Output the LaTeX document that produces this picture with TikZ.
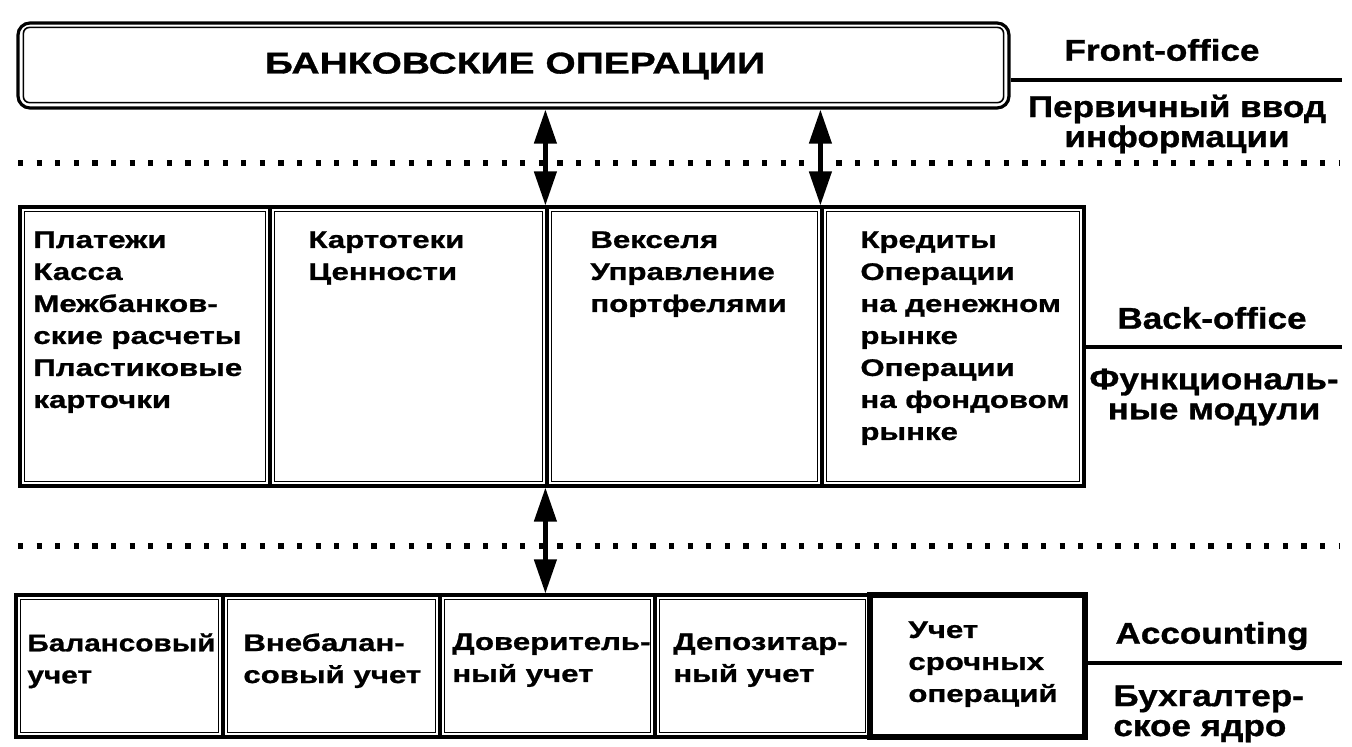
\documentclass[tikz,border=0pt]{standalone}
\usepackage{fontspec}
\setmainfont{Liberation Sans}[FakeStretch=1.3, BoldFeatures={FakeBold=1}]
\newfontfamily\lblfont{Liberation Sans}[FakeStretch=1.17, BoldFeatures={FakeBold=1}]
\newfontfamily\narrowfont{Liberation Sans}[FakeStretch=1.24, BoldFeatures={FakeBold=1}]
\usetikzlibrary{arrows.meta,calc,fit}
\begin{document}
\begin{tikzpicture}[x=0.5pt,y=-0.5pt,
  font=\bfseries\fontsize{12}{16}\selectfont,
  outerline/.style={draw, line width=1.6pt, inner sep=0pt},
  innerline/.style={draw, line width=0.8pt},
  heavycell/.style={draw, line width=2.6pt, inner sep=0pt},
  txt/.style={anchor=north west, inner sep=0pt, align=left},
  lbl/.style={inner sep=0pt, align=center, font=\lblfont\bfseries\fontsize{15}{15}\selectfont},
  conn/.style={line width=2pt},
  dots/.style={line width=2.6pt, dash pattern=on 2.6pt off 6.7pt},
  arr/.style={line width=2.2pt, {Triangle[length=17pt,width=11pt]}-{Triangle[length=17pt,width=11pt]}},
]
\useasboundingbox (0,0) rectangle (1352,746);

% top box
\node[outerline, rounded corners=6pt, fit={(18,23) (1009,108)}] (top) {};
\draw[innerline, rounded corners=3pt] ($(top.north west)+(7,6)$) rectangle ($(top.south east)+(-7,-7)$);
\node[font=\bfseries\fontsize{15}{18}\selectfont, inner sep=0pt] (title) at (515,66) {БАНКОВСКИЕ ОПЕРАЦИИ};

% separators
\coordinate (d1a) at (18,163); \coordinate (d1b) at (1340,163);
\coordinate (d2a) at (18,546); \coordinate (d2b) at (1340,546);
\draw[dots] (d1a) -- (d1b);
\draw[dots] (d2a) -- (d2b);

% middle cells
\node[outerline, fit={(20,207) (270,486)}] (m1) {};
\node[outerline, fit={(270,207) (547,486)}] (m2) {};
\node[outerline, fit={(547,207) (822,486)}] (m3) {};
\node[outerline, fit={(822,207) (1084,486)}] (m4) {};
\foreach \m in {m1,m2,m3,m4}
  \draw[innerline] ($(\m.north west)+(6,6)$) rectangle ($(\m.south east)+(-6,-6)$);

\node[txt] (t1) at (33,231) {Платежи\\Касса\\Межбанков-\\ские расчеты\\Пластиковые\\карточки};
\node[txt] (t2) at (308,231) {Картотеки\\Ценности};
\node[txt] (t3) at (590,231) {Векселя\\Управление\\портфелями};
\node[txt] (t4) at (860,231) {Кредиты\\Операции\\на денежном\\рынке\\Операции\\на фондовом\\рынке};

% bottom cells
\node[outerline, fit={(16,595) (223,737)}] (b1) {};
\node[outerline, fit={(223,595) (440,737)}] (b2) {};
\node[outerline, fit={(440,595) (655,737)}] (b3) {};
\node[outerline, fit={(655,595) (870,737)}] (b4) {};
\node[heavycell, fit={(870,595) (1085,737)}] (b5) {};
\foreach \b in {b1,b2,b3,b4}
  \draw[innerline] ($(\b.north west)+(6,6)$) rectangle ($(\b.south east)+(-6,-6)$);

\node[txt, font=\narrowfont\bfseries\fontsize{12}{16}\selectfont] (u1) at (27,633) {Балансовый\\учет};
\node[txt] (u2) at (243,633) {Внебалан-\\совый учет};
\node[txt] (u3) at (452,633) {Доверитель-\\ный учет};
\node[txt] (u4) at (673,633) {Депозитар-\\ный учет};
\node[txt] (u5) at (908,621) {Учет\\срочных\\операций};

% arrows
\draw[arr] (top.south -| m3.north west) -- (m3.north west);
\draw[arr] (top.south -| m4.north west) -- (m4.north west);
\draw[arr] (m3.south west) -- (m3.south west |- b3.north);

% right side labels
\coordinate (fo) at (1342,80);
\coordinate (bo) at (1342,347);
\coordinate (ac) at (1342,663);
\draw[conn] (top.east |- fo) -- (fo);
\draw[conn] (m4.east |- bo) -- (bo);
\draw[conn] (b5.east |- ac) -- (ac);

\node[lbl] (l1) at (1162,50) {Front-office};
\node[lbl] (l2) at (1177,124) {Первичный ввод\\информации};
\node[lbl] (l3) at (1212,318) {Back-office};
\node[lbl] (l4) at (1214,397) {Функциональ-\\ные модули};
\node[lbl] (l5) at (1212,636) {Accounting};
\node[lbl, anchor=north west, align=left] (l6) at (1113,685) {Бухгалтер-\\ское ядро};
\end{tikzpicture}
\end{document}
